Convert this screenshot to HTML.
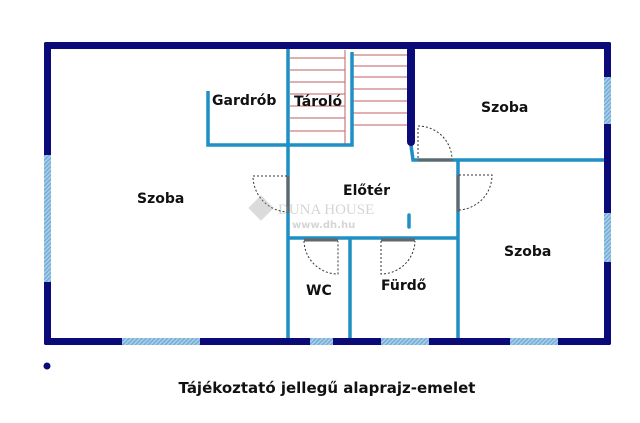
<!DOCTYPE html>
<html><head><style>body{margin:0;background:#fff}svg{display:block}text{font-family:"DejaVu Sans","Liberation Sans",sans-serif;font-weight:bold;fill:#111}</style></head><body>
<svg width="640" height="423" viewBox="0 0 640 423">
<defs><pattern id="h" width="3" height="3" patternUnits="userSpaceOnUse" patternTransform="rotate(45)"><rect width="3" height="3" fill="#a8cfe8"/><rect width="1.3" height="3" fill="#6fa8d6"/></pattern></defs>
<g stroke="#c06060" stroke-width="1">
<line x1="290" y1="58" x2="345" y2="58"/><line x1="290" y1="70" x2="345" y2="70"/><line x1="290" y1="82" x2="345" y2="82"/><line x1="290" y1="94" x2="345" y2="94"/><line x1="290" y1="106" x2="345" y2="106"/><line x1="290" y1="118" x2="345" y2="118"/><line x1="290" y1="131" x2="345" y2="131"/>
<line x1="345" y1="50" x2="345" y2="144"/>
<line x1="352" y1="55" x2="410" y2="55"/><line x1="352" y1="66" x2="410" y2="66"/><line x1="352" y1="77" x2="410" y2="77"/><line x1="352" y1="89" x2="410" y2="89"/><line x1="352" y1="101" x2="410" y2="101"/><line x1="352" y1="113" x2="410" y2="113"/><line x1="352" y1="125" x2="410" y2="125"/>
</g>
<g stroke="#1f8fc4" stroke-width="3.5" fill="none">
<line x1="288" y1="46" x2="288" y2="342"/>
<polyline points="208,91 208,145 352,145 352,52"/>
<polyline points="411,145 413,160 607,160"/>
<line x1="458" y1="160" x2="458" y2="342"/>
<line x1="288" y1="238" x2="458" y2="238"/>
<line x1="350" y1="238" x2="350" y2="342"/>
<line x1="409" y1="215" x2="409" y2="227" stroke-linecap="round"/>
</g>
<g stroke="#666" stroke-width="3">
<line x1="418" y1="160" x2="453" y2="160"/>
<line x1="288" y1="176" x2="288" y2="213"/>
<line x1="458" y1="175" x2="458" y2="212"/>
<line x1="304" y1="240" x2="338" y2="240"/>
<line x1="381" y1="240" x2="415" y2="240"/>
</g>
<g stroke="#333" stroke-width="1" stroke-dasharray="2,2" fill="none">
<path d="M418,158 V126 A34,34 0 0 1 452,158"/>
<path d="M287,176 H253 A36,36 0 0 0 287,212"/>
<path d="M459,175 H492 A35,35 0 0 1 459,210"/>
<path d="M304,241 A34,34 0 0 0 338,274 V241"/>
<path d="M381,241 V274 A34,34 0 0 0 415,241"/>
</g>
<g fill="#0a0a78">
<rect x="44" y="42" width="567" height="7" rx="2"/>
<rect x="44" y="42" width="7" height="303" rx="2"/>
<rect x="604" y="42" width="7" height="303" rx="2"/>
<rect x="44" y="338" width="567" height="7" rx="2"/>
<rect x="407" y="46" width="8" height="100" rx="4"/>
<circle cx="47" cy="366" r="3.5"/>
</g>
<g fill="url(#h)">
<rect x="44" y="155" width="7" height="127"/>
<rect x="604" y="77" width="7" height="47"/>
<rect x="604" y="213" width="7" height="49"/>
<rect x="122" y="338" width="78" height="7"/>
<rect x="310" y="338" width="23" height="7"/>
<rect x="381" y="338" width="48" height="7"/>
<rect x="510" y="338" width="48" height="7"/>
</g>
<g opacity="0.35">
<rect x="252" y="199" width="18" height="18" transform="rotate(45 261 208)" fill="#999"/>
<text x="278" y="214" font-size="15" style="font-family:'Liberation Serif',serif;font-weight:normal;fill:#888">DUNA HOUSE</text>
<text x="292" y="228" font-size="10" style="fill:#888">www.dh.hu</text>
</g>
<g font-size="14">
<text x="212" y="105">Gardrób</text>
<text x="294" y="106">Tároló</text>
<text x="481" y="112">Szoba</text>
<text x="137" y="203">Szoba</text>
<text x="343" y="195">Előtér</text>
<text x="504" y="256">Szoba</text>
<text x="306" y="295">WC</text>
<text x="381" y="290">Fürdő</text>
<text x="327" y="393" text-anchor="middle" font-size="15">Tájékoztató jellegű alaprajz-emelet</text>
</g>
</svg>
</body></html>
